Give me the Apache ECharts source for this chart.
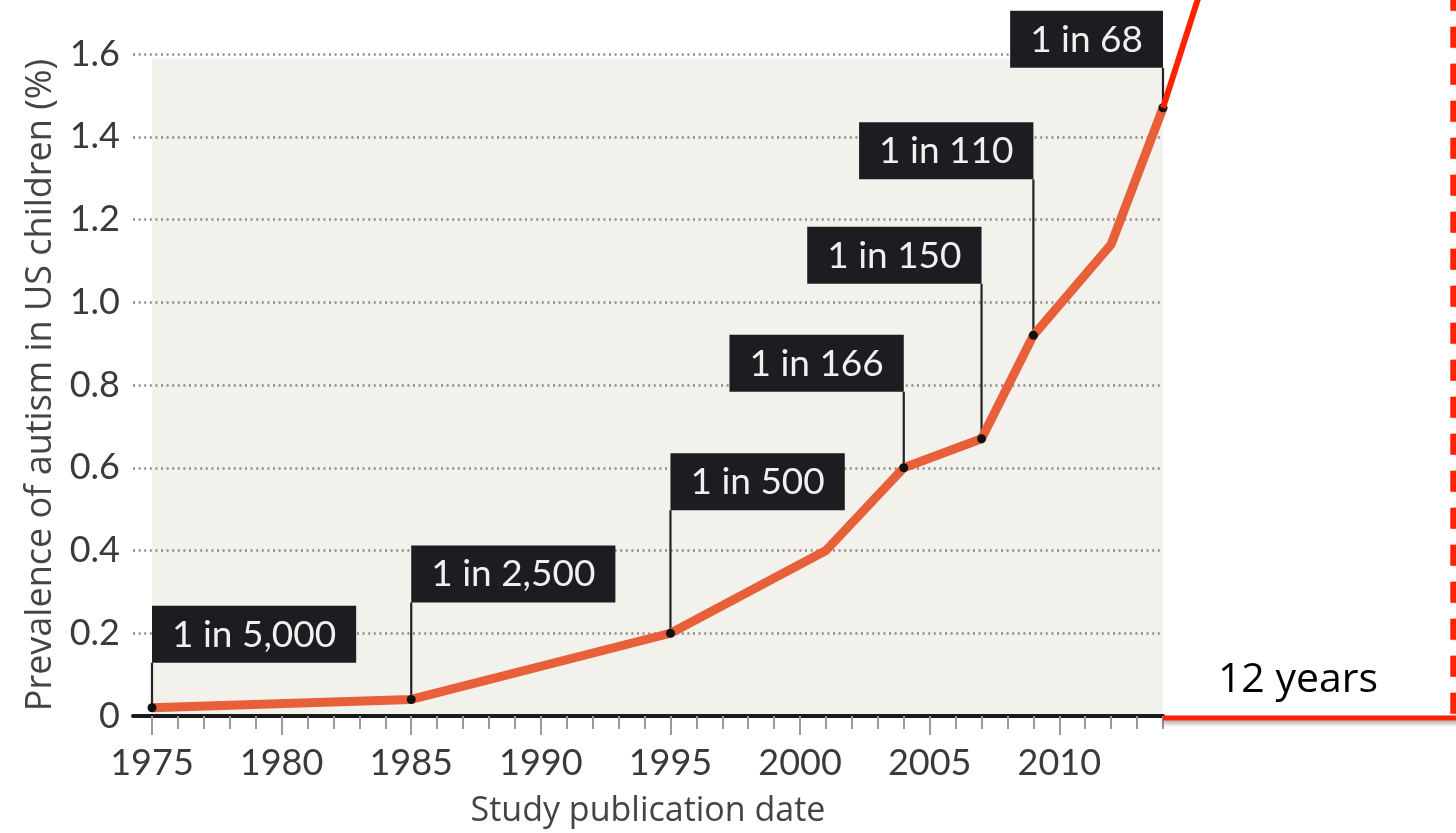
<!DOCTYPE html>
<html>
<head>
<meta charset="utf-8">
<script src="https://cdn.jsdelivr.net/npm/echarts@6/dist/echarts.min.js"></script>
<style>
  html, body { margin: 0; padding: 0; background: #ffffff; }
  #chart { width: 1456px; height: 833px; }
</style>
</head>
<body>
<div id="chart"></div>
<script>
// ---------------- data ----------------
const years = [1975, 1985, 1995, 2001, 2004, 2007, 2009, 2012, 2014];
const prevalence = [0.02, 0.04, 0.2, 0.4, 0.6, 0.67, 0.92, 1.14, 1.47];
const ratioLabels = ['1 in 5,000', '1 in 2,500', '1 in 500', '', '1 in 166', '1 in 150', '1 in 110', '', '1 in 68'];

const yTickValues = [0, 0.2, 0.4, 0.6, 0.8, 1.0, 1.2, 1.4, 1.6];
const yTickLabels = ['0', '0.2', '0.4', '0.6', '0.8', '1.0', '1.2', '1.4', '1.6'];
const xLabelYears = [1975, 1980, 1985, 1990, 1995, 2000, 2005, 2010];
const xLabelTexts = ['1975', '1980', '1985', '1990', '1995', '2000', '2005', '2010'];
const xMinorYears = [1975, 1976, 1977, 1978, 1979, 1980, 1981, 1982, 1983, 1984, 1985, 1986, 1987,
  1988, 1989, 1990, 1991, 1992, 1993, 1994, 1995, 1996, 1997, 1998, 1999, 2000, 2001, 2002,
  2003, 2004, 2005, 2006, 2007, 2008, 2009, 2010, 2011, 2012, 2013, 2014];

// red annotation overlay (projection beyond the chart)
const projectionLine = [[2014, 1.47], [2016, 1.86]];
const baselineSpan = [[2014, 0], [2026, 0]];
const markerYear = 2025.2;
const markerSpan = [[markerYear, 0.01], [markerYear, 1.9]];
const projectionText = '12 years';

// label layout (pixels above the point, which side the box sits on)
const labelLift = [45, 97, 123, 0, 76, 155, 156, 0, 40];
const labelSide = ['right', 'right', 'right', '', 'left', 'left', 'left', '', 'left'];

// ---------------- chart ----------------
const FONT = 'Lato, "Open Sans", sans-serif';
const NAME_FONT = '"Open Sans", Lato, sans-serif';
const chart = echarts.init(document.getElementById('chart'));

const linePoints = years.map((y, i) => [y, prevalence[i]]);
const labelPoints = years.map((y, i) => [y, prevalence[i], i]).filter(d => ratioLabels[d[2]]);

const option = {
  animation: false,
  backgroundColor: '#ffffff',
  grid: [
    { left: 133, top: 54, width: 1030, height: 664 },
    { left: 1163, top: 54, width: 293, height: 664 }
  ],
  xAxis: [
    {
      type: 'value', gridIndex: 0, position: 'bottom',
      min: 1974.267, max: 2014,
      axisLine: { show: true, onZero: false, lineStyle: { color: '#1a1a1a', width: 4 } },
      axisTick: { show: true, customValues: xLabelYears, length: 19, lineStyle: { color: '#9a9a9a', width: 2 } },
      axisLabel: {
        show: true, customValues: xLabelYears, fontSize: 36, color: '#3a3a3a', fontFamily: FONT, margin: 29,
        formatter: v => {
          const k = xLabelYears.indexOf(Math.round(v));
          return k >= 0 ? xLabelTexts[k] : '';
        }
      },
      splitLine: { show: false },
      name: 'Study publication date', nameLocation: 'middle', nameGap: 78,
      nameTextStyle: { fontSize: 34, color: '#444444', fontFamily: NAME_FONT }
    },
    {
      type: 'value', gridIndex: 0, position: 'bottom',
      min: 1974.267, max: 2014,
      axisLine: { show: false },
      axisTick: { show: true, customValues: xMinorYears, length: 13, lineStyle: { color: '#9a9a9a', width: 2 } },
      axisLabel: { show: false },
      splitLine: { show: false }
    },
    {
      type: 'value', gridIndex: 1, min: 2014, max: 2025.304, show: false,
      axisLine: { show: false }, axisTick: { show: false }, axisLabel: { show: false }, splitLine: { show: false }
    }
  ],
  yAxis: [
    {
      type: 'value', gridIndex: 0, min: 0, max: 1.6, interval: 0.2,
      axisLine: { show: false }, axisTick: { show: false },
      axisLabel: {
        fontSize: 36, color: '#3a3a3a', fontFamily: FONT, margin: 13,
        formatter: v => {
          const k = yTickValues.findIndex(t => Math.abs(t - v) < 1e-6);
          return k >= 0 ? yTickLabels[k] : '';
        }
      },
      splitLine: { show: true, lineStyle: { color: '#8c8c8c', width: 2.5, type: [2, 3.6] } },
      name: 'Prevalence of autism in US children (%)', nameLocation: 'middle', nameGap: 74,
      nameTextStyle: { fontSize: 36, color: '#444444', fontFamily: NAME_FONT }
    },
    {
      type: 'value', gridIndex: 1, min: 0, max: 1.6, show: false,
      axisLine: { show: false }, axisTick: { show: false }, axisLabel: { show: false }, splitLine: { show: false }
    }
  ],
  series: [
    {
      // beige plot background, below the grid lines
      type: 'custom', xAxisIndex: 0, yAxisIndex: 0, z: -1, silent: true,
      data: [[years[0], 0, years[years.length - 1], 1.59]],
      renderItem: (params, api) => {
        const a = api.coord([api.value(0), api.value(1)]);
        const b = api.coord([api.value(2), api.value(3)]);
        return { type: 'rect', shape: { x: a[0], y: b[1], width: b[0] - a[0], height: a[1] - b[1] },
                 style: { fill: '#f3f1eb' } };
      }
    },
    {
      type: 'line', xAxisIndex: 0, yAxisIndex: 0, z: 2,
      data: linePoints,
      showSymbol: true,
      symbol: (v, p) => (ratioLabels[p.dataIndex] ? 'circle' : 'none'),
      symbolSize: 9,
      itemStyle: { color: '#111111' },
      lineStyle: { color: '#e8603a', width: 9, join: 'round' },
      silent: true
    },
    {
      // ratio callouts with leader lines
      type: 'custom', xAxisIndex: 0, yAxisIndex: 0, z: 1, silent: true,
      data: labelPoints,
      renderItem: (params, api) => {
        const i = api.value(2);
        const p = api.coord([api.value(0), api.value(1)]);
        const topY = p[1] - labelLift[i];
        const right = labelSide[i] === 'right';
        return {
          type: 'group',
          children: [
            { type: 'line', shape: { x1: p[0], y1: p[1], x2: p[0], y2: topY },
              style: { stroke: '#222222', lineWidth: 2.2 } },
            { type: 'text', x: p[0], y: topY,
              style: {
                text: ratioLabels[i], fill: '#f0f0f0', font: '37px ' + FONT,
                backgroundColor: '#1c1c21', padding: [10, 20, 9, 20], lineHeight: 38,
                align: right ? 'left' : 'right', textAlign: right ? 'left' : 'right',
                verticalAlign: 'bottom', textVerticalAlign: 'bottom'
              } }
          ]
        };
      }
    },
    {
      type: 'line', xAxisIndex: 2, yAxisIndex: 1, clip: false, silent: true, z: 3,
      data: projectionLine, symbol: 'none',
      lineStyle: { color: '#ff2200', width: 6 }
    },
    {
      type: 'line', xAxisIndex: 2, yAxisIndex: 1, clip: false, silent: true, z: 3,
      data: baselineSpan, symbol: 'none',
      lineStyle: { color: '#ff2200', width: 5, shadowColor: 'rgba(0,0,0,0.35)', shadowBlur: 4, shadowOffsetY: 3 }
    },
    {
      type: 'line', xAxisIndex: 2, yAxisIndex: 1, clip: false, silent: true, z: 3,
      data: markerSpan, symbol: 'none',
      lineStyle: { color: '#ff2200', width: 6, type: [21, 16], shadowColor: 'rgba(0,0,0,0.25)', shadowBlur: 3, shadowOffsetX: 2 }
    }
  ],
  graphic: [
    {
      type: 'text', x: 1298, y: 680, silent: true,
      style: {
        text: projectionText, font: '41px "Open Sans", "Noto Sans", sans-serif', fill: '#000000',
        align: 'center', textAlign: 'center', verticalAlign: 'middle', textVerticalAlign: 'middle'
      }
    }
  ]
};

chart.setOption(option);
</script>
</body>
</html>
